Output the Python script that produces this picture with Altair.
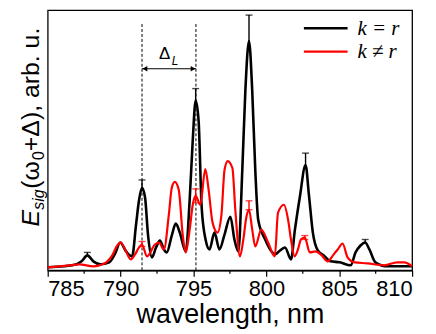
import altair as alt
import pandas as pd

# ---------------- data ----------------
wl_black = [785.00, 786.09, 786.98, 787.32, 787.72, 788.13, 788.61, 789.22, 789.63, 789.97,
            790.38, 790.79, 791.06, 791.27, 791.47, 791.68, 791.88, 792.15, 792.43, 792.70,
            792.97, 793.17, 793.51, 793.79, 794.06, 794.47, 794.74, 794.95, 795.15, 795.35,
            795.56, 795.83, 796.10, 796.44, 796.78, 797.13, 797.53, 797.81, 798.08, 798.35,
            798.56, 798.81, 799.03, 799.24, 799.44, 799.92, 800.26, 800.60, 800.94, 801.28,
            801.69, 801.96, 802.30, 802.69, 802.92, 803.19, 803.53, 803.94, 804.41, 805.03,
            805.78, 806.12, 806.46, 806.78, 807.07, 807.48, 808.30, 808.98, 810.00]
val_black = [3, 4, 6, 9, 15, 9, 6, 8, 17, 28,
             19, 14, 46, 71, 83, 73, 36, 13, 23, 30,
             21, 18, 35, 47, 38, 19, 71, 131, 171, 151,
             64, 31, 21, 38, 21, 36, 54, 31, 19, 101,
             181, 231, 181, 101, 51, 31, 21, 16, 20, 23,
             11, 41, 74, 106, 76, 38, 20, 15, 9, 8,
             5, 18, 25, 28, 21, 8, 4, 4, 4]

wl_red = [785.00, 785.82, 786.57, 787.18, 788.13, 788.54, 789.02, 789.43, 789.77, 790.02,
          790.31, 790.70, 790.99, 791.27, 791.47, 791.81, 792.36, 792.63, 792.97, 793.31,
          793.51, 793.72, 793.99, 794.26, 794.47, 794.74, 794.95, 795.15, 795.47, 795.81,
          796.04, 796.31, 796.65, 796.92, 797.13, 797.35, 797.67, 797.87, 798.19, 798.42,
          798.62, 798.81, 799.03, 799.24, 799.65, 800.12, 800.58, 800.80, 801.21, 801.49,
          801.69, 801.94, 802.17, 802.37, 802.64, 802.98, 803.39, 803.80, 804.21, 804.62,
          804.90, 805.23, 805.57, 806.05, 806.93, 808.09, 808.98, 809.46, 810.00]
val_red = [3, 4, 5, 6, 4, 5, 8, 15, 25, 28,
           21, 11, 16, 23, 26, 14, 26, 28, 21, 56,
           83, 89, 81, 36, 18, 41, 66, 75, 66, 102,
           81, 48, 38, 56, 101, 110, 103, 61, 14, 31,
           53, 61, 41, 24, 41, 28, 14, 58, 66, 51,
           31, 14, 21, 31, 33, 18, 19, 15, 9, 16,
           21, 27, 13, 8, 7, 5, 8, 8, 4]

err_black_x = [787.72, 791.47, 795.15, 798.81, 802.69, 806.78]
err_black_lo = [15, 83, 171, 231, 106, 28]
err_black_hi = [18, 91, 183, 257, 118, 31]

err_red_x = [791.47, 795.15, 798.81, 802.64]
err_red_lo = [24, 68, 61, 31]
err_red_hi = [29, 82, 70, 35]

series_labels = ["k = r", "k \u2260 r"]
series_colors = ["#000000", "#ff0000"]

x_ticks = [785, 790, 795, 800, 805, 810]
x_minor = [787.5, 792.5, 797.5, 802.5, 807.5]
delta_lines = [791.47, 795.17]
delta_top = [249, 249]
arrow_level = 203

# ---------------- tables ----------------
black_df = pd.DataFrame({"wl": wl_black, "v": val_black})
red_df = pd.DataFrame({"wl": wl_red, "v": val_red})
errb_df = pd.DataFrame({"wl": err_black_x, "lo": err_black_lo, "hi": err_black_hi})
errr_df = pd.DataFrame({"wl": err_red_x, "lo": err_red_lo, "hi": err_red_hi})
dl_df = pd.DataFrame({"wl": delta_lines, "top": delta_top, "bot": [0, 0]})
minor_df = pd.DataFrame({"wl": x_minor})

X = alt.Scale(domain=[785, 810], nice=False, zero=False)
Y = alt.Scale(domain=[0, 262], nice=False, zero=False)
AX = alt.Axis(values=x_ticks, tickSize=6, grid=False, title="wavelength, nm", format="d")


def xq(field):
    return alt.X(field, type="quantitative", scale=X, axis=AX, title="wavelength, nm")


def yq(field):
    return alt.Y(field, type="quantitative", scale=Y, axis=None)


black_line = alt.Chart(black_df).mark_line(
    interpolate="monotone", color=series_colors[0], strokeWidth=2.6).encode(
    x=xq("wl"), y=yq("v"))
red_line = alt.Chart(red_df).mark_line(
    interpolate="monotone", color=series_colors[1], strokeWidth=2.2).encode(
    x=xq("wl"), y=yq("v"))

minor_ticks = alt.Chart(minor_df).mark_rule(color="black", strokeWidth=1.2).encode(
    x=xq("wl"), y=alt.value(262), y2=alt.value(265.5))

errb_rule = alt.Chart(errb_df).mark_rule(color="black", strokeWidth=1.4).encode(
    x=xq("wl"), y=yq("lo"), y2="hi:Q")
errb_cap = alt.Chart(errb_df).mark_tick(color="black", orient="horizontal", size=7, thickness=1.4).encode(
    x=xq("wl"), y=yq("hi"))
errr_rule = alt.Chart(errr_df).mark_rule(color="#ff0000", strokeWidth=1.4).encode(
    x=xq("wl"), y=yq("lo"), y2="hi:Q")
errr_cap_hi = alt.Chart(errr_df).mark_tick(color="#ff0000", orient="horizontal", size=7, thickness=1.4).encode(
    x=xq("wl"), y=yq("hi"))
errr_cap_lo = alt.Chart(errr_df).mark_tick(color="#ff0000", orient="horizontal", size=7, thickness=1.4).encode(
    x=xq("wl"), y=yq("lo"))

dashed = alt.Chart(dl_df).mark_rule(color="black", strokeWidth=1, strokeDash=[3, 2]).encode(
    x=xq("wl"), y=yq("bot"), y2="top:Q")

arrow_df = pd.DataFrame({"wl": [delta_lines[0]], "b": [delta_lines[1]], "lvl": [arrow_level]})
arrow_line = alt.Chart(arrow_df).mark_rule(color="black", strokeWidth=1.2).encode(
    x=xq("wl"), x2="b:Q", y=yq("lvl"))
headl_df = pd.DataFrame({"wl": [delta_lines[0] + 0.2], "lvl": [arrow_level]})
headr_df = pd.DataFrame({"wl": [delta_lines[1] - 0.2], "lvl": [arrow_level]})
headl = alt.Chart(headl_df).mark_point(filled=True, color="black", size=30, opacity=1,
                                       shape="triangle-left").encode(x=xq("wl"), y=yq("lvl"))
headr = alt.Chart(headr_df).mark_point(filled=True, color="black", size=30, opacity=1,
                                       shape="triangle-right").encode(x=xq("wl"), y=yq("lvl"))

lab_df = pd.DataFrame({"t": ["\u0394"], "wl": [792.63], "lvl": [213]})
lab = alt.Chart(lab_df).mark_text(align="left", baseline="alphabetic", font="Liberation Sans",
                                  fontSize=17, color="black").encode(
    x=xq("wl"), y=yq("lvl"), text="t:N")
sub_df = pd.DataFrame({"t": ["L"], "wl": [793.51], "lvl": [207]})
sub = alt.Chart(sub_df).mark_text(align="left", baseline="alphabetic", font="Liberation Sans",
                                  fontSize=12, fontStyle="italic", color="black").encode(
    x=xq("wl"), y=yq("lvl"), text="t:N")


def ptext(t, xp, yp, size, italic=False, angle=0, font="Liberation Sans"):
    kw = dict(align="left", baseline="alphabetic", font=font, fontSize=size, color="black")
    if angle:
        kw["angle"] = angle
    if italic:
        kw["fontStyle"] = "italic"
    return alt.Chart(pd.DataFrame({"t": [t]})).mark_text(**kw).encode(
        x=alt.value(xp), y=alt.value(yp), text="t:N")


def prule(color, x1, x2, yp, w):
    return alt.Chart(pd.DataFrame({"c": [color]})).mark_rule(color=color, strokeWidth=w).encode(
        x=alt.value(x1), x2=alt.value(x2), y=alt.value(yp))


# legend (manual)
legend_layers = [
    prule(series_colors[0], 258, 302, 18.3, 2.6),
    prule(series_colors[1], 258, 302, 41.7, 2.2),
    ptext(series_labels[0], 312, 25, 21, italic=True, font="Liberation Serif"),
    ptext(series_labels[1], 312, 48.5, 21, italic=True, font="Liberation Serif"),
]

# y-axis title pieces (rotated)
ytitle_layers = [
    ptext("E", -9, 218, 25, italic=True, angle=270),
    ptext("sig", -4, 201, 16, italic=True, angle=270),
    ptext("(\u03c9", -9, 180, 25, angle=270),
    ptext("0", -4, 151, 16, angle=270),
    ptext("+\u0394), arb. u.", -9, 142, 25, angle=270),
]

chart = alt.layer(
    black_line, dashed, arrow_line, headl, headr, lab, sub, minor_ticks,
    errb_rule, errb_cap, red_line, errr_rule, errr_cap_hi, errr_cap_lo,
    *legend_layers, *ytitle_layers,
).properties(
    width=367, height=262,
    padding={"left": 40, "top": 1, "right": 16, "bottom": 63},
    autosize=alt.AutoSizeParams(type="none"),
).configure_view(
    stroke="black", strokeWidth=1.3
).configure_axis(
    domainColor="black", domainWidth=1.3, tickColor="black", tickWidth=1.2,
    labelFont="Liberation Sans", labelFontSize=22, labelColor="black", labelPadding=2,
    titleFont="Liberation Sans", titleFontSize=27, titleFontWeight="normal", titleColor="black",
    titlePadding=3,
)

chart.save("out.html", embed_options={"renderer": "svg", "actions": False})
